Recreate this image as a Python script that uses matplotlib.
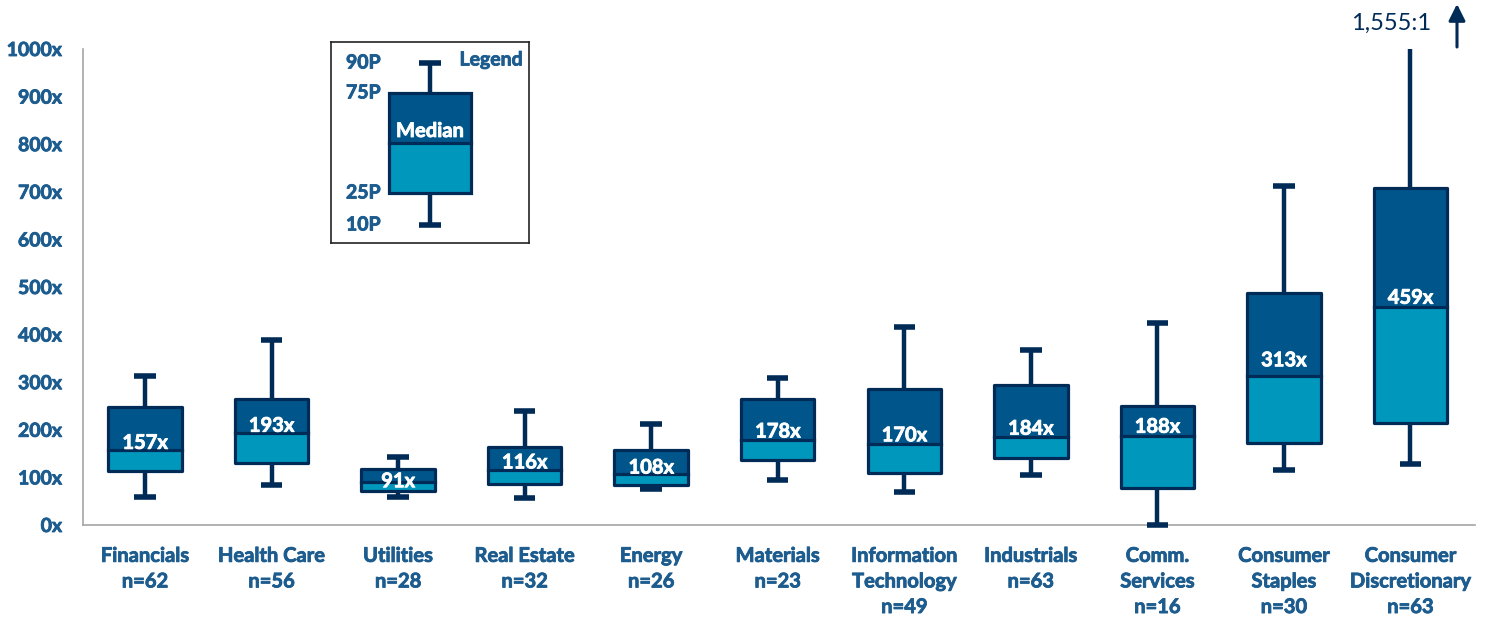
import matplotlib
matplotlib.use("Agg")
import matplotlib.pyplot as plt
import matplotlib.patheffects as pe
from matplotlib.patches import Rectangle, FancyArrowPatch

# Sector P/E-style multiple distributions (10th/25th/50th/75th/90th percentiles)
sectors = ["Financials", "Health Care", "Utilities", "Real Estate", "Energy",
           "Materials", "Information\nTechnology", "Industrials", "Comm.\nServices",
           "Consumer\nStaples", "Consumer\nDiscretionary"]
counts = [62, 56, 28, 32, 26, 23, 49, 63, 16, 30, 63]
p10 = [59, 84, 59, 57, 76, 95, 69, 105, 0, 115, 128]
p25 = [113, 130, 71, 86, 84, 137, 109, 141, 78, 172, 214]
p50 = [157, 193, 91, 116, 108, 178, 170, 184, 188, 313, 459]
p75 = [248, 265, 117, 164, 158, 265, 286, 294, 250, 487, 708]
p90 = [313, 389, 143, 240, 212, 309, 416, 368, 424, 712, 1555]
y_ticks = [0, 100, 200, 300, 400, 500, 600, 700, 800, 900, 1000]

# Vertical nudge (points) of each median label relative to its median line
label_nudge = [1, 1, -4, 1, 0, 2, 2, 2, 2, 7, 2]

DARK = "#00568A"
LIGHT = "#0097BD"
NAVY = "#002B57"
TEXT = "#1D5C8E"
FONT = "Lato"


def heavy(color):
    # thicken the bold glyphs slightly
    return [pe.withStroke(linewidth=0.6, foreground=color)]


fig = plt.figure(figsize=(14.92, 6.18), dpi=100)
ax = fig.add_axes([83 / 1492, 1 - 525 / 618, (1475 - 83) / 1492, (525 - 49) / 618])

box_w = 0.58
cap_w = 0.17
xs = list(range(len(sectors)))

for x, lo, q1, med, q3, hi, nudge in zip(xs, p10, p25, p50, p75, p90, label_nudge):
    # whiskers and caps
    ax.plot([x, x], [q3, hi], color=NAVY, lw=3.2, solid_capstyle="butt", zorder=2)
    ax.plot([x, x], [lo, q1], color=NAVY, lw=3.2, solid_capstyle="butt", zorder=2)
    if hi <= 1000:
        ax.plot([x - cap_w / 2, x + cap_w / 2], [hi, hi], color=NAVY, lw=4,
                solid_capstyle="butt", zorder=2, clip_on=False)
    ax.plot([x - cap_w / 2, x + cap_w / 2], [lo, lo], color=NAVY, lw=4,
            solid_capstyle="butt", zorder=5, clip_on=False)
    # two-tone box
    ax.bar(x, med - q1, bottom=q1, width=box_w, color=LIGHT, zorder=3)
    ax.bar(x, q3 - med, bottom=med, width=box_w, color=DARK, zorder=3)
    ax.add_patch(Rectangle((x - box_w / 2, q1), box_w, q3 - q1, fill=False,
                           edgecolor=NAVY, lw=2.3, joinstyle="round", zorder=4))
    ax.plot([x - box_w / 2, x + box_w / 2], [med, med], color=NAVY, lw=2.3, zorder=4)
    ax.annotate(f"{med}x", (x, med), xytext=(0, nudge), textcoords="offset points",
                ha="center", va="baseline", color="white", fontsize=14.5,
                fontweight="bold", family=FONT, zorder=5, path_effects=heavy("white"))

ax.set_xlim(-0.49, 10.51)
ax.set_ylim(0, 1000)
ax.set_yticks(y_ticks)
ax.set_yticklabels([f"{t}x" for t in y_ticks])
ax.set_xticks(xs)
ax.set_xticklabels([f"{s}\nn={n}" for s, n in zip(sectors, counts)])
for lab in ax.get_yticklabels():
    lab.set(color=TEXT, fontsize=14, fontweight="bold", family=FONT,
            path_effects=heavy(TEXT))
for lab in ax.get_xticklabels():
    lab.set(color=TEXT, fontsize=14.5, fontweight="bold", family=FONT, linespacing=1.35,
            path_effects=heavy(TEXT))
ax.tick_params(axis="both", length=0)
ax.tick_params(axis="y", pad=15)
ax.tick_params(axis="x", pad=15)
for side in ("top", "right"):
    ax.spines[side].set_visible(False)
for side in ("left", "bottom"):
    ax.spines[side].set_color("#A6A6A6")
    ax.spines[side].set_linewidth(1.2)

# Off-scale note for the discretionary upper whisker
ax.annotate(f"{p90[-1]:,}:1", (10, 1000), xytext=(-43, 11), textcoords="offset points",
            ha="left", va="bottom", color=NAVY, fontsize=17, family=FONT,
            annotation_clip=False)
fig.add_artist(FancyArrowPatch(
    (1457 / 1492, 1 - 47 / 618), (1457 / 1492, 1 - 4 / 618), transform=fig.transFigure,
    arrowstyle="-|>,head_length=10,head_width=5", color=NAVY, lw=2.2,
    shrinkA=0, shrinkB=0))

# Legend schematic
leg = fig.add_axes([331 / 1492, 1 - 243 / 618, 198 / 1492, 201 / 618])
leg.set_xlim(0, 198)
leg.set_ylim(0, 201)
leg.set_xticks([])
leg.set_yticks([])
for sp in leg.spines.values():
    sp.set_color("#222222")
    sp.set_linewidth(1.2)
leg_levels = [18, 50, 100, 150, 180]
leg_names = ["10P", "25P", None, "75P", "90P"]
lx, lw_box, lcap = 99, 82, 22
l10, l25, l50, l75, l90 = leg_levels
leg.plot([lx, lx], [l75, l90], color=NAVY, lw=3.2, solid_capstyle="butt")
leg.plot([lx, lx], [l10, l25], color=NAVY, lw=3.2, solid_capstyle="butt")
leg.plot([lx - lcap / 2, lx + lcap / 2], [l90, l90], color=NAVY, lw=4, solid_capstyle="butt")
leg.plot([lx - lcap / 2, lx + lcap / 2], [l10, l10], color=NAVY, lw=4, solid_capstyle="butt")
leg.bar(lx, l50 - l25, bottom=l25, width=lw_box, color=LIGHT, zorder=3)
leg.bar(lx, l75 - l50, bottom=l50, width=lw_box, color=DARK, zorder=3)
leg.add_patch(Rectangle((lx - lw_box / 2, l25), lw_box, l75 - l25, fill=False,
                        edgecolor=NAVY, lw=2.3, zorder=4))
leg.plot([lx - lw_box / 2, lx + lw_box / 2], [l50, l50], color=NAVY, lw=2.3, zorder=4)
leg.text(lx, l50 + 2, "Median", ha="center", va="bottom", color="white",
         fontsize=14.5, fontweight="bold", family=FONT, zorder=5,
         path_effects=heavy("white"))
for lvl, name in zip(leg_levels, leg_names):
    if name:
        leg.text(15, lvl, name, ha="left", va="center", color=TEXT,
                 fontsize=14, fontweight="bold", family=FONT, path_effects=heavy(TEXT))
leg.text(192, 183, "Legend", ha="right", va="center", color=TEXT,
         fontsize=14, fontweight="bold", family=FONT, path_effects=heavy(TEXT))

fig.savefig("out.png", dpi=100)
